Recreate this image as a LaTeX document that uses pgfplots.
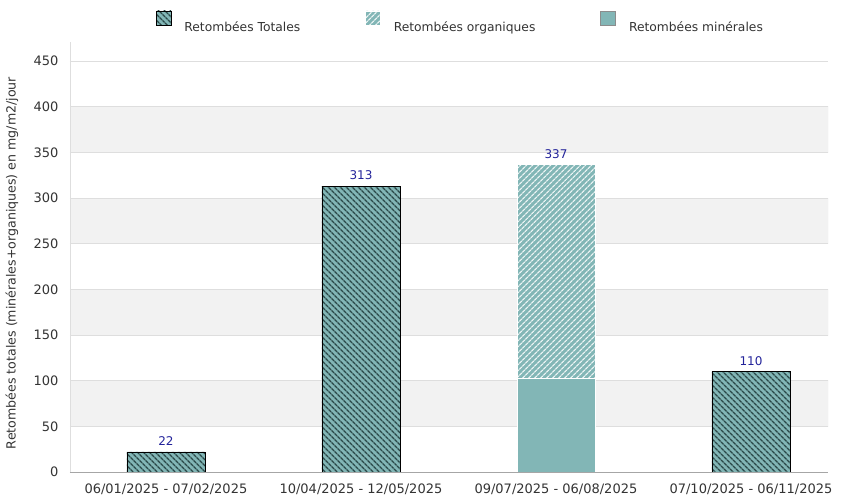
\documentclass[border=0pt]{standalone}
\usepackage{pgfplots}
\pgfplotsset{compat=1.18}
\usepackage{fontspec}
\setmainfont{DejaVu Sans}
\usetikzlibrary{patterns.meta}

\definecolor{tealfill}{HTML}{82B6B6}
\definecolor{hatchdark}{HTML}{2A4848}
\definecolor{valblue}{HTML}{23239A}
\definecolor{band}{HTML}{F2F2F2}
\definecolor{gridc}{HTML}{DEDEDE}
\definecolor{ticktext}{HTML}{333333}

\begin{document}
\begin{tikzpicture}
\useasboundingbox (-70pt,-25pt) rectangle (773pt,472pt);
\begin{axis}[
  at={(0,0)}, anchor=south west,
  scale only axis,
  width=758pt, height=430pt,
  xmin=-0.492, xmax=3.395,
  ymin=0, ymax=471,
  xtick={0,1,2,3},
  xticklabels={06/01/2025 - 07/02/2025, 10/04/2025 - 12/05/2025, 09/07/2025 - 06/08/2025, 07/10/2025 - 06/11/2025},
  ytick={0,50,...,450},
  axis x line*=bottom, axis y line*=left,
  x axis line style={draw=black!35, -},
  y axis line style={draw=gridc, -},
  major tick length=0pt,
  tick label style={font=\fontsize{13}{15}\selectfont, color=ticktext},
  /pgf/number format/assume math mode=true,
  xticklabel style={yshift=-8pt},
  yticklabel style={xshift=-8pt},
  ymajorgrids, grid style={draw=gridc, line width=0.8pt},
  ylabel={Retombées totales (minérales+organiques) en mg/m2/jour},
  every axis y label/.style={at={(axis description cs:-0.0765,0.486)}, rotate=90, anchor=center,
    font=\fontsize{12.6}{14}\selectfont, color=ticktext},
  every node near coord/.append style={font=\fontsize{12}{14}\selectfont, color=valblue, anchor=south, yshift=2.5pt},
  legend columns=3,
  legend style={at={(0.515,1.045)}, anchor=center, draw=none, fill=none,
    font=\fontsize{12.3}{14}\selectfont, text=ticktext,
    /tikz/every even column/.append style={column sep=63pt},
    /tikz/every odd column/.append style={column sep=11pt}},
  legend image code/.code={\draw[#1] (0pt,2pt) rectangle (15pt,16pt);},
]
% alternating background bands
\draw[fill=band, draw=gridc, line width=0.8pt] (axis cs:-0.492,50) rectangle (axis cs:3.395,100);
\draw[fill=band, draw=gridc, line width=0.8pt] (axis cs:-0.492,150) rectangle (axis cs:3.395,200);
\draw[fill=band, draw=gridc, line width=0.8pt] (axis cs:-0.492,250) rectangle (axis cs:3.395,300);
\draw[fill=band, draw=gridc, line width=0.8pt] (axis cs:-0.492,350) rectangle (axis cs:3.395,400);

% totals
\addplot[ybar, bar width=78pt, bar shift=0pt, fill=tealfill, draw=black, line width=0.6pt,
  postaction={pattern={Lines[angle=-45,distance=4pt,line width=1.5pt]}, pattern color=hatchdark},
  nodes near coords]
  coordinates {(0,22) (1,313) (3,110)};
\addlegendentry{Retombées Totales}

% organics (top of stacked bar, total 337)
\addplot[ybar, bar width=78pt, bar shift=0pt, fill=tealfill, draw=white, line width=0.5pt,
  postaction={pattern={Lines[angle=45,distance=4pt,line width=1.3pt]}, pattern color=white!85!tealfill},
  nodes near coords]
  coordinates {(2,337)};
\addlegendentry{Retombées organiques}

% minerals
\addplot[ybar, bar width=78pt, bar shift=0pt, fill=tealfill, draw=white, line width=0.8pt,
  legend image code/.code={\draw[fill=tealfill, draw=black!45, line width=0.6pt] (0pt,2pt) rectangle (15pt,16pt);}]
  coordinates {(2,103)};
\addlegendentry{Retombées minérales}
\end{axis}
\end{tikzpicture}
\end{document}
